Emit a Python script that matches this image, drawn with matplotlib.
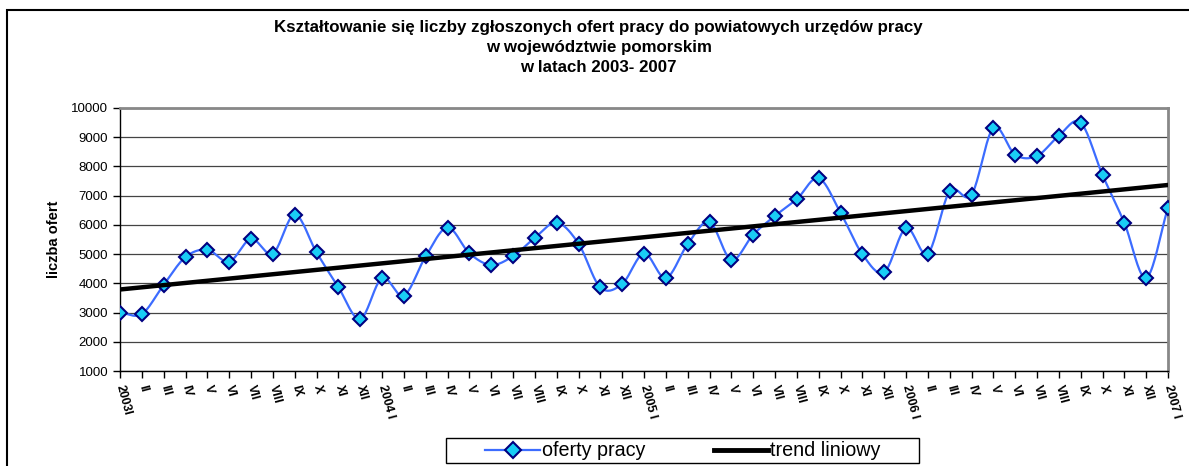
import numpy as np
import matplotlib.pyplot as plt
from matplotlib.patches import Rectangle

plt.rcParams['font.family'] = ['Liberation Sans', 'DejaVu Sans']

months = ['I', 'II', 'III', 'IV', 'V', 'VI', 'VII', 'VIII', 'IX', 'X', 'XI', 'XII']
labels = ['2003I'] + months[1:] + ['2004 I'] + months[1:] + ['2005 I'] + months[1:] \
    + ['2006 I'] + months[1:] + ['2007 I']

offers = [3000, 2950, 3950, 4900, 5150, 4740, 5520, 5020, 6350, 5060, 3870, 2780,
          4180, 3580, 4920, 5910, 5030, 4630, 4930, 5560, 6080, 5360, 3860, 3980,
          5020, 4180, 5340, 6100, 4800, 5670, 6310, 6880, 7600, 6420, 5000, 4380,
          5890, 5020, 7150, 7030, 9320, 8400, 8360, 9050, 9500, 7710, 6070, 4190,
          6590]

x = np.arange(len(offers))
y = np.array(offers, dtype=float)


def smooth(xs, ys, n=20):
    # catmull-rom, close to excel's "smoothed line"
    px = np.concatenate([[2 * xs[0] - xs[1]], xs, [2 * xs[-1] - xs[-2]]])
    py = np.concatenate([[2 * ys[0] - ys[1]], ys, [2 * ys[-1] - ys[-2]]])
    outx, outy = [], []
    t = np.linspace(0, 1, n, endpoint=False)
    for i in range(1, len(px) - 2):
        for arr, out in ((px, outx), (py, outy)):
            p0, p1, p2, p3 = arr[i - 1], arr[i], arr[i + 1], arr[i + 2]
            out.extend(0.5 * (2 * p1 + (-p0 + p2) * t
                              + (2 * p0 - 5 * p1 + 4 * p2 - p3) * t ** 2
                              + (-p0 + 3 * p1 - 3 * p2 + p3) * t ** 3))
    outx.append(xs[-1])
    outy.append(ys[-1])
    return np.array(outx), np.array(outy)


sx, sy = smooth(x.astype(float), y)
coef = np.polyfit(x, y, 1)

W, H = 1189, 466
fig = plt.figure(figsize=(W / 100, H / 100), dpi=100)
# outer chart border (right and bottom run off the image)
fig.patches.append(Rectangle((7 / W, -0.1), 1.2, (H - 10) / H + 0.1,
                             transform=fig.transFigure, fill=False,
                             edgecolor='black', linewidth=1.5))

ax = fig.add_axes([120 / W, 1 - 371 / H, (1168 - 120) / W, (371 - 108) / H])

line_blue = '#3c6cff'
ax.plot(sx, sy, color=line_blue, linewidth=1.6, zorder=3)
ax.plot(x, y, linestyle='none', marker='D', markersize=7.5,
        markerfacecolor='#19cdf5', markeredgecolor='#000080',
        markeredgewidth=1.5, zorder=4)
ax.plot(x, np.polyval(coef, x), color='black', linewidth=3.2, zorder=5)

ax.set_xlim(0, len(offers) - 1)
ax.set_ylim(1000, 10000)
ax.set_yticks(range(1000, 10001, 1000))
ax.grid(axis='y', color='#444444', linewidth=0.9)
ax.set_axisbelow(True)

ax.set_xticks(x)
ax.set_xticklabels(labels, rotation=-75, ha='left', va='center',
                   rotation_mode='anchor', fontsize=8.8, fontweight='bold')
ax.tick_params(axis='x', length=5, pad=5, width=1)
ax.tick_params(axis='y', length=5, labelsize=9.5, width=1)
for s in ('top', 'right'):
    ax.spines[s].set_color('#888888')
    ax.spines[s].set_linewidth(2)
ax.spines['left'].set_linewidth(1)
ax.spines['bottom'].set_linewidth(1)

ax.set_ylabel('liczba ofert', fontsize=10.5, fontweight='bold', labelpad=7)

fig.text(0.5035, 1 - 20 / H,
         'Kształtowanie się liczby zgłoszonych ofert pracy do powiatowych urzędów pracy\n'
         'w województwie pomorskim\nw latach 2003- 2007',
         ha='center', va='top', fontsize=12.2, fontweight='bold', linespacing=1.42)

h1 = plt.Line2D([], [], color=line_blue, linewidth=1.6, marker='D', markersize=8,
                markerfacecolor='#19cdf5', markeredgecolor='#000080', markeredgewidth=1.5)
h2 = plt.Line2D([], [], color='black', linewidth=3.5)
leg = fig.legend([h1, h2], ['oferty pracy', 'trend liniowy'], ncol=2,
                 loc='center', bbox_to_anchor=(683 / W, 1 - 451 / H),
                 fontsize=14.2, frameon=False, borderpad=0,
                 handlelength=2.75, handletextpad=0.1, columnspacing=3.5)
fig.patches.append(Rectangle((446 / W, 1 - 463 / H), (919 - 446) / W, 25 / H,
                             transform=fig.transFigure, fill=False,
                             edgecolor='black', linewidth=1))

fig.savefig('out.png', dpi=100)
